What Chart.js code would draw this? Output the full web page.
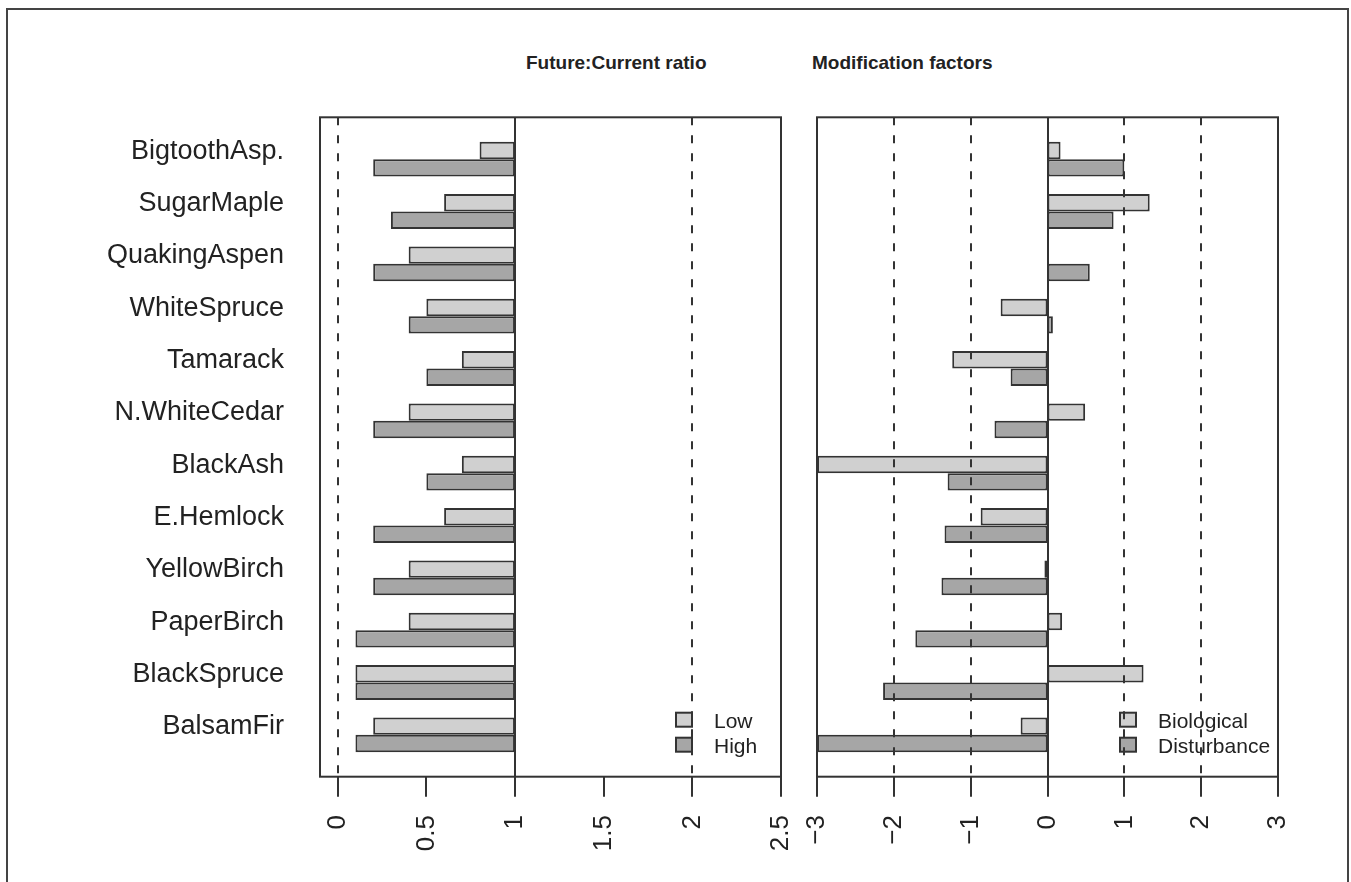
<!DOCTYPE html>
<html>
<head>
<meta charset="utf-8">
<script src="https://cdn.jsdelivr.net/npm/chart.js@4.4.1/dist/chart.umd.min.js"></script>
<style>
  body { margin: 0; background: #fff; width: 1351px; height: 882px; overflow: hidden; position: relative;
         font-family: "Liberation Sans", Arial, Helvetica, sans-serif; }
  #outer { position: absolute; left: 6px; top: 8px; width: 1339px; height: 900px; border: 2px solid #444; }
  canvas { position: absolute; top: 0; }
  .title { position: absolute; top: 53px; font-weight: bold; font-size: 19px; line-height: 19px; color: #222; white-space: nowrap; }
</style>
</head>
<body>
<div id="outer"></div>
<div class="title" style="left:526px">Future:Current ratio</div>
<div class="title" style="left:812px">Modification factors</div>
<canvas id="ratioChart" width="800" height="882" style="left:0"></canvas>
<canvas id="modChart" width="551" height="882" style="left:800px"></canvas>
<script>
const species = ['BigtoothAsp.', 'SugarMaple', 'QuakingAspen', 'WhiteSpruce', 'Tamarack', 'N.WhiteCedar',
                 'BlackAsh', 'E.Hemlock', 'YellowBirch', 'PaperBirch', 'BlackSpruce', 'BalsamFir'];

// Future:Current ratio (bars hang from 1)
const ratioLow  = [0.8, 0.6, 0.4, 0.5, 0.7, 0.4, 0.7, 0.6, 0.4, 0.4, 0.1, 0.2];
const ratioHigh = [0.2, 0.3, 0.2, 0.4, 0.5, 0.2, 0.5, 0.2, 0.2, 0.1, 0.1, 0.1];

// Modification factors (bars from 0)
const modBiological  = [0.17, 1.33, 0.01, -0.61, -1.24, 0.49, -3.0, -0.87, -0.04, 0.19, 1.25, -0.35];
const modDisturbance = [1.0, 0.86, 0.55, 0.07, -0.48, -0.69, -1.30, -1.34, -1.38, -1.72, -2.14, -3.0];

const ratioTicks = [0, 0.5, 1, 1.5, 2, 2.5];
const modTicks = [-3, -2, -1, 0, 1, 2, 3];
const ratioDashed = [0, 2];
const modDashed = [-2, -1, 1, 2];

const FONT = '"Liberation Sans", Arial, Helvetica, sans-serif';
const LIGHT = '#d0d0d0';
const DARK = '#a6a6a6';
const INK = '#333333';

function fmtTick(v) {
    return String(v).replace('-', '\u2212');
}

// frame, reference lines, legend and tick marks in the R base-graphics style
const panelDecor = {
    id: 'panelDecor',
    afterDatasetsDraw(chart, args, opts) {
        const ctx = chart.ctx;
        const xs = chart.scales.x;
        const ys = chart.scales.y;
        const n = chart.data.labels.length;
        const top = ys.getPixelForValue(-0.8);
        const bottom = ys.getPixelForValue(n - 0.2);
        const left = chart.chartArea.left;
        const right = chart.chartArea.right;

        ctx.save();

        // legend (bottom right of the panel)
        ctx.font = '21px ' + FONT;
        ctx.textBaseline = 'alphabetic';
        ctx.lineWidth = 2;
        chart.data.datasets.forEach((ds, i) => {
            const bx = right - opts.legendInset;
            const by = bottom - 64 + i * 25;
            ctx.fillStyle = ds.backgroundColor;
            ctx.fillRect(bx, by, 16, 14);
            ctx.strokeStyle = INK;
            ctx.strokeRect(bx, by, 16, 14);
            ctx.fillStyle = '#222';
            ctx.fillText(ds.label, bx + 38, by + 15);
        });

        // dashed reference lines
        ctx.strokeStyle = INK;
        ctx.lineWidth = 2;
        ctx.setLineDash([8, 10]);
        opts.dashed.forEach(v => {
            const px = Math.round(xs.getPixelForValue(v));
            ctx.beginPath();
            ctx.moveTo(px, top);
            ctx.lineTo(px, bottom);
            ctx.stroke();
        });
        ctx.setLineDash([]);

        // solid base line
        const bpx = Math.round(xs.getPixelForValue(opts.base));
        ctx.beginPath();
        ctx.moveTo(bpx, top);
        ctx.lineTo(bpx, bottom);
        ctx.stroke();

        // plot box
        ctx.strokeRect(left, top, right - left, bottom - top);

        // tick marks below the box
        xs.ticks.forEach(t => {
            const px = Math.round(xs.getPixelForValue(t.value));
            ctx.beginPath();
            ctx.moveTo(px, bottom);
            ctx.lineTo(px, bottom + 20);
            ctx.stroke();
        });

        ctx.restore();
    }
};

function xAxis(min, max, tickValues) {
    return {
        min: min,
        max: max,
        afterBuildTicks: s => { s.ticks = tickValues.map(v => ({ value: v })); },
        afterFit: s => {
            s.height = 121;
            // keep the plot box where the layout padding puts it
            s.paddingLeft = 0;
            s.paddingRight = 0;
        },
        grid: { display: false, drawTicks: false },
        border: { display: false },
        ticks: {
            autoSkip: false,
            minRotation: 90,
            maxRotation: 90,
            padding: 54,
            color: '#222',
            font: { family: FONT, size: 26 },
            callback: v => fmtTick(v)
        }
    };
}

const barStyle = {
    borderColor: INK,
    borderWidth: 2,
    borderSkipped: false,
    categoryPercentage: 0.667,
    barPercentage: 1
};

new Chart(document.getElementById('ratioChart'), {
    type: 'bar',
    data: {
        labels: species,
        datasets: [
            { label: 'Low', data: ratioLow, base: 1, backgroundColor: LIGHT },
            { label: 'High', data: ratioHigh, base: 1, backgroundColor: DARK }
        ]
    },
    options: {
        indexAxis: 'y',
        responsive: false,
        animation: false,
        devicePixelRatio: 1,
        layout: { padding: { top: 133, right: 19, bottom: 0, left: 0 } },
        datasets: { bar: barStyle },
        scales: {
            x: xAxis(-0.1, 2.5, ratioTicks),
            y: {
                afterFit: s => { s.width = 320; },
                grid: { display: false, drawTicks: false },
                border: { display: false },
                ticks: {
                    padding: 36,
                    labelOffset: -8,
                    color: '#222',
                    font: { family: FONT, size: 27 }
                }
            }
        },
        plugins: {
            legend: { display: false },
            tooltip: { enabled: false },
            panelDecor: { dashed: ratioDashed, base: 1, legendInset: 105 }
        }
    },
    plugins: [panelDecor]
});

new Chart(document.getElementById('modChart'), {
    type: 'bar',
    data: {
        labels: species,
        datasets: [
            { label: 'Biological', data: modBiological, backgroundColor: LIGHT },
            { label: 'Disturbance', data: modDisturbance, backgroundColor: DARK }
        ]
    },
    options: {
        indexAxis: 'y',
        responsive: false,
        animation: false,
        devicePixelRatio: 1,
        layout: { padding: { top: 133, right: 73, bottom: 0, left: 17 } },
        datasets: { bar: barStyle },
        scales: {
            x: xAxis(-3, 3, modTicks),
            y: { display: false }
        },
        plugins: {
            legend: { display: false },
            tooltip: { enabled: false },
            panelDecor: { dashed: modDashed, base: 0, legendInset: 158 }
        }
    },
    plugins: [panelDecor]
});
</script>
</body>
</html>
